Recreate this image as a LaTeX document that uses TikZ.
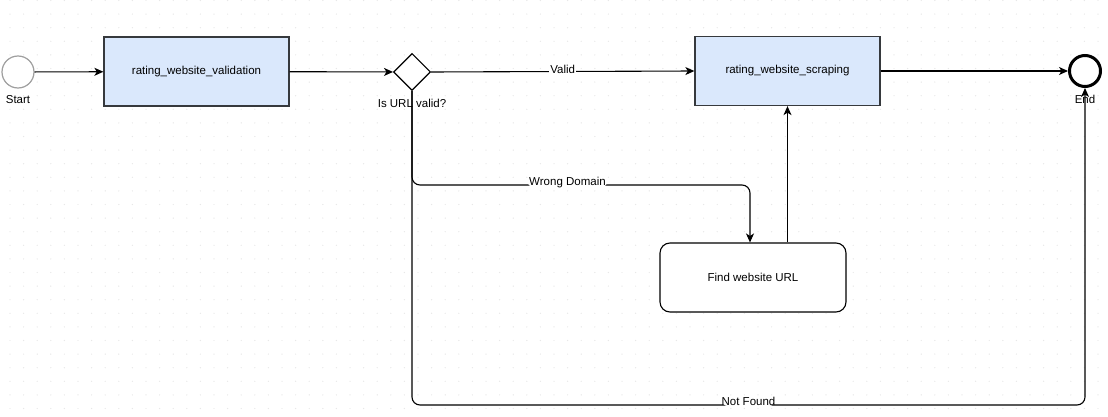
\documentclass[tikz,border=0pt]{standalone}
\usepackage{fontspec}
\setmainfont{Liberation Sans}
\usetikzlibrary{shapes.geometric,arrows.meta}
\definecolor{taskblue}{HTML}{DAE8FC}
\definecolor{taskline}{HTML}{36393D}
\begin{document}
\begin{tikzpicture}[x=1pt,y=-1pt]
    % Define styles
    \tikzstyle{txt} = [font=\fontsize{11.5}{13}\selectfont]
    \tikzstyle{task} = [txt, draw=taskline, line width=1.3pt, rectangle, minimum width=185pt, minimum height=69pt, fill=taskblue]
    \tikzstyle{subtask} = [txt, draw=black, line width=1.1pt, rectangle, minimum width=186pt, minimum height=69pt, fill=white, rounded corners=10pt]
    \tikzstyle{gate} = [draw=black, line width=1.1pt, diamond, minimum size=37pt, inner sep=0pt, fill=white]
    \tikzstyle{flow} = [line width=1.1pt, -{Stealth[length=9pt,width=8pt,inset=2.5pt]}]
    \tikzstyle{lbl} = [txt, fill=white, inner sep=1pt]

    \useasboundingbox (0,0) rectangle (1108,417);

    % Grid dots
    \foreach \gx in {0,...,80} {
        \foreach \gy in {0,...,30} {
            \fill[gray!18] (10+\gx*13.6, 0.5+\gy*13.6) circle (0.7);
          }
      }

    % Events and tasks
    \node(start)[draw=gray!75, line width=1.2pt, circle, minimum size=32pt, inner sep=0pt, fill=white] at (18,72) {};
    \node(startlabel)[txt] at (18,100) {Start};
    \node(validation)[task] at (196.5,71.5) {rating\_website\_validation};
    \node(check)[gate] at (412,72) {};
    \node(checklabel)[txt] at (412,103) {Is URL valid?};
    \node(scraping)[task] at (787.5,71) {rating\_website\_scraping};
    \node(find)[subtask] at (753,277.5) {Find website URL};
    \node(end)[draw=black, line width=3pt, circle, minimum size=31pt, inner sep=0pt, fill=white] at (1085,71) {};
    \node(endlabel)[txt] at (1085,99) {End};

    % Connectors
    \draw[flow] (start) -- (validation);
    \draw[flow] (validation) -- (check);
    \draw[flow] (check.east) -- node[lbl, pos=0.5, yshift=2pt] {Valid} (scraping.west);
    \draw[flow] (scraping) -- (end);

    \coordinate (wrong) at (750,185);
    \coordinate (notfound) at (1085,405);
    \draw[flow, rounded corners=8pt] (check.south) |- node[lbl, pos=0.73, yshift=2pt] {Wrong Domain} (wrong) -- (wrong |- find.north);
    \draw[flow] (find.north -| scraping.south) -- (scraping.south);
    \draw[flow, rounded corners=8pt] (check.south) |- node[lbl, pos=0.75, yshift=4pt] {Not Found} (notfound) -- (end.south);
  \end{tikzpicture}
\end{document}
